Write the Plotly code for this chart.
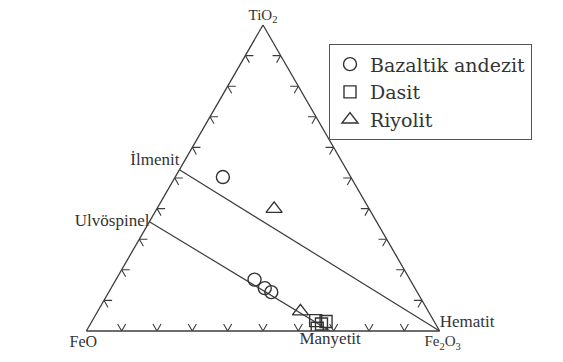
import plotly.graph_objects as go

# compositions in wt% (TiO2, FeO, Fe2O3)
bazaltik_tio2 = [50.3, 16.8, 14.0, 12.7]
bazaltik_feo = [36.2, 44.0, 42.5, 41.3]
bazaltik_fe2o3 = [13.5, 39.2, 43.5, 46.0]

dasit_tio2 = [3.4, 2.3, 0.9, 3.1]
dasit_feo = [33.4, 32.3, 34.2, 30.6]
dasit_fe2o3 = [63.2, 65.4, 64.9, 66.3]

riyolit_tio2 = [39.9, 6.4]
riyolit_feo = [26.9, 36.2]
riyolit_fe2o3 = [33.2, 57.4]

# end-member tie lines: ilmenite-hematite, ulvospinel-magnetite
ilm_hem_tio2 = [52.7, 0]
ilm_hem_feo = [47.3, 0]
ilm_hem_fe2o3 = [0, 100]
ilm_hem_labels = ['İlmenit', 'Hematit']

usp_mag_tio2 = [35.7, 0]
usp_mag_feo = [64.3, 31.0]
usp_mag_fe2o3 = [0, 69.0]
usp_mag_labels = ['Ulvöspinel', 'Manyetit']

tick_vals = [10, 20, 30, 40, 50, 60, 70, 80, 90]

INK = '#3c3c3c'
SERIF = 'Times New Roman'

# chevron ticks along the three edges (two short grid stubs per tick)
L = 2.3
ta, tb, tc = [], [], []
for t in tick_vals:
    # left edge (c = 0)
    ta += [t, t, t - L, None]
    tb += [100 - t - L, 100 - t, 100 - t, None]
    tc += [L, 0, L, None]
    # bottom edge (a = 0)
    ta += [L, 0, L, None]
    tb += [100 - t - L, 100 - t, 100 - t, None]
    tc += [t, t, t - L, None]
    # right edge (b = 0)
    ta += [t, t, t - L, None]
    tb += [L, 0, L, None]
    tc += [100 - t - L, 100 - t, 100 - t, None]

fig = go.Figure()

fig.add_trace(go.Scatterternary(
    a=ta, b=tb, c=tc, mode='lines', line=dict(color=INK, width=1.1),
    showlegend=False, hoverinfo='skip'))

fig.add_trace(go.Scatterternary(
    a=ilm_hem_tio2, b=ilm_hem_feo, c=ilm_hem_fe2o3, mode='lines+text',
    text=ilm_hem_labels, textposition=['top left', 'top right'],
    textfont=dict(family=SERIF, size=17, color='#333'),
    cliponaxis=False,
    line=dict(color=INK, width=1.2), showlegend=False, hoverinfo='skip'))

fig.add_trace(go.Scatterternary(
    a=usp_mag_tio2, b=usp_mag_feo, c=usp_mag_fe2o3, mode='lines+text',
    text=usp_mag_labels, textposition=['middle left', 'bottom center'],
    textfont=dict(family=SERIF, size=17, color='#333'), cliponaxis=False,
    line=dict(color=INK, width=1.2), showlegend=False, hoverinfo='skip'))

marker_line = dict(color='#333', width=1.4)
fig.add_trace(go.Scatterternary(
    a=bazaltik_tio2, b=bazaltik_feo, c=bazaltik_fe2o3, mode='markers',
    name='Bazaltik andezit',
    marker=dict(symbol='circle-open', size=13, color='#333', line=marker_line)))
fig.add_trace(go.Scatterternary(
    a=dasit_tio2, b=dasit_feo, c=dasit_fe2o3, mode='markers', name='Dasit',
    marker=dict(symbol='square-open', size=12, color='#333', line=marker_line)))
fig.add_trace(go.Scatterternary(
    a=riyolit_tio2, b=riyolit_feo, c=riyolit_fe2o3, mode='markers',
    name='Riyolit',
    marker=dict(symbol='triangle-up-open', size=14, color='#333',
                line=marker_line)))

axis_style = dict(showgrid=False, showticklabels=False, ticks='',
                  linecolor=INK, linewidth=1.3, min=0)
fig.update_layout(
    width=555, height=354,
    margin=dict(l=0, r=0, t=0, b=0),
    paper_bgcolor='white',
    font=dict(family=SERIF, color='#333'),
    ternary=dict(
        sum=100, bgcolor='white',
        domain=dict(x=[0.1171, 0.8018], y=[0.0876, 0.952]),
        aaxis=dict(title=dict(text='TiO<sub>2</sub>', font=dict(size=15)),
                   **axis_style),
        baxis=dict(title=dict(text='FeO', font=dict(size=16)), **axis_style),
        caxis=dict(title=dict(text='Fe<sub>2</sub>O<sub>3</sub>',
                              font=dict(size=15)), **axis_style),
    ),
    legend=dict(x=0.578, y=0.898, xanchor='left', yanchor='top',
                bgcolor='white', bordercolor='#555', borderwidth=1.2,
                font=dict(family='DejaVu Serif', size=19, color='#333'),
                itemwidth=30, tracegroupgap=0),
)

fig.write_html('out.html')
